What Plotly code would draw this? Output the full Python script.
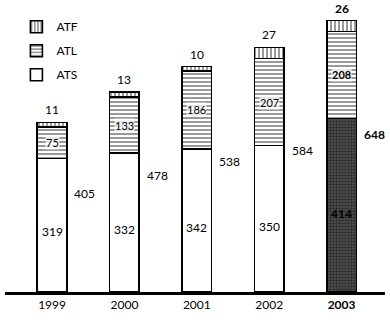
import plotly.graph_objects as go

years = ["1999", "2000", "2001", "2002", "2003"]
ats = [319, 332, 342, 350, 414]
atl = [75, 133, 186, 207, 208]
atf = [11, 13, 10, 27, 26]
totals = [405, 478, 538, 584, 648]

FONT = "Lato, DejaVu Sans, sans-serif"
x = list(range(len(years)))
bold = [i == len(years) - 1 for i in x]

def fmt(v, b):
    return f"<b>{v}</b>" if b else str(v)

fig = go.Figure()
line = dict(color="black", width=1.6)
fig.add_trace(go.Bar(
    x=x, y=ats, name="ATS", width=0.41, legendgroup="s", legendrank=3,
    marker=dict(color="white", line=line,
                pattern=dict(shape=["", "", "", "", "."], fgcolor="black",
                             bgcolor="#555", size=3, solidity=0.5)),
))
fig.add_trace(go.Bar(
    x=x, y=atl, name="ATL", width=0.41, legendgroup="l", legendrank=2,
    marker=dict(color="white", line=line,
                pattern=dict(shape="-", fgcolor="black", bgcolor="white",
                             size=4, solidity=0.4)),
))
fig.add_trace(go.Bar(
    x=x, y=atf, name="ATF", width=0.41, legendgroup="f", legendrank=1,
    marker=dict(color="white", line=line,
                pattern=dict(shape="|", fgcolor="black", bgcolor="white",
                             size=4, solidity=0.4)),
))

ann = []
for i in x:
    b = bold[i]
    ann.append(dict(x=i, y=ats[i] * 0.45, text=fmt(ats[i], b), showarrow=False,
                    font=dict(size=12, color="black", family=FONT)))
    ann.append(dict(x=i, y=ats[i] + atl[i] / 2, text=fmt(atl[i], b), showarrow=False,
                    bgcolor="rgba(255,255,255,0.75)", borderpad=0,
                    font=dict(size=11, color="black", family=FONT)))
    ann.append(dict(x=i, y=totals[i], text=fmt(atf[i], b), showarrow=False,
                    yanchor="bottom", yshift=3,
                    font=dict(size=12, color="black", family=FONT)))
    ann.append(dict(x=i + 0.455, y=totals[i] * 0.58, text=fmt(totals[i], b),
                    showarrow=False,
                    font=dict(size=12, color="black", family=FONT)))

fig.update_layout(
    width=390, height=320,
    barmode="stack",
    bargap=0.6,
    paper_bgcolor="white", plot_bgcolor="white",
    margin=dict(l=5, r=5, t=0, b=28, pad=0, autoexpand=False),
    font=dict(family=FONT, size=12, color="black"),
    annotations=ann,
    showlegend=True,
    legend=dict(x=0.03, y=0.958, xanchor="left", yanchor="top",
                font=dict(size=12, family=FONT), bgcolor="rgba(0,0,0,0)",
                traceorder="grouped", tracegroupgap=5, itemwidth=30),
    xaxis=dict(range=[-0.65, 4.6], tickmode="array", tickvals=x,
               ticktext=[fmt(y, b) for y, b in zip(years, bold)],
               showline=True, linecolor="black", linewidth=2.5,
               showgrid=False, ticks="", zeroline=False, automargin=False,
               tickfont=dict(size=12, family=FONT)),
    yaxis=dict(range=[0, 697], visible=False, showgrid=False, zeroline=False,
               automargin=False),
)
fig.write_html("out.html", config={"displayModeBar": False},
               post_script="document.body.style.margin='0';document.body.style.overflow='hidden';")
